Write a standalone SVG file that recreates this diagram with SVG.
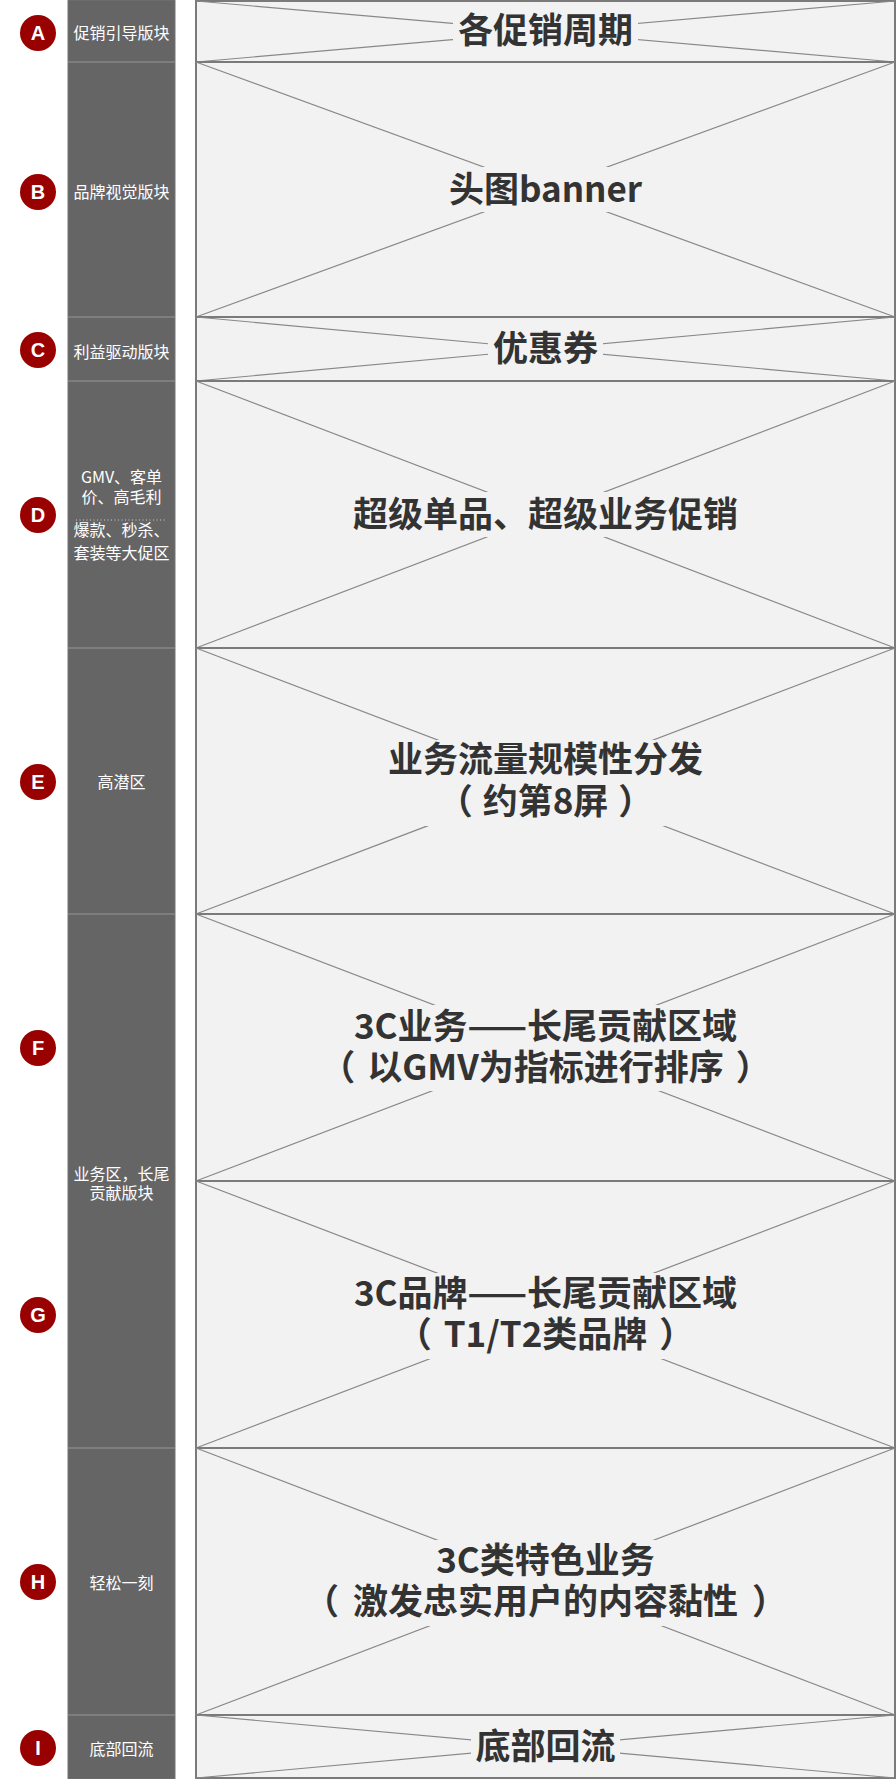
<svg xmlns="http://www.w3.org/2000/svg" width="896" height="1779" viewBox="0 0 896 1779">
<style>
.badge{fill:#990000}
.bl{fill:#fff;font-family:"Liberation Sans",Arial,sans-serif;font-weight:bold;font-size:20px;text-anchor:middle}
.col{fill:#666566;stroke:#747474;stroke-width:1}
.sep{stroke:#7e7e7e;stroke-width:2}
.lab{fill:#fff;font-family:"Noto Sans CJK SC",sans-serif;font-size:16px;text-anchor:middle}
.sec{fill:#f2f2f2;stroke:#7a7a7a;stroke-width:2}
.dg{stroke:#888;stroke-width:1.2;fill:none}
.tb{fill:#f2f2f2}
.tt{fill:#333;font-family:"Noto Sans CJK SC",sans-serif;font-weight:bold;font-size:35px;text-anchor:middle}
</style>
<rect x="0" y="0" width="896" height="1779" fill="#fff"/>
<g id="left-column">
<rect class="col" x="68" y="0" width="107" height="1779"/>
<line class="sep" x1="68" y1="62" x2="175" y2="62"/>
<line class="sep" x1="68" y1="317" x2="175" y2="317"/>
<line class="sep" x1="68" y1="381" x2="175" y2="381"/>
<line class="sep" x1="68" y1="648" x2="175" y2="648"/>
<line class="sep" x1="68" y1="914" x2="175" y2="914"/>
<line class="sep" x1="68" y1="1448" x2="175" y2="1448"/>
<line class="sep" x1="68" y1="1715" x2="175" y2="1715"/>
</g>
<g id="badge-A"><circle class="badge" cx="38" cy="33" r="18"/><text class="bl" x="38" y="40">A</text><text class="lab" x="121.5" y="39">促销引导版块</text></g>
<g id="badge-B"><circle class="badge" cx="38" cy="192" r="18"/><text class="bl" x="38" y="199">B</text><text class="lab" x="121.5" y="198">品牌视觉版块</text></g>
<g id="badge-C"><circle class="badge" cx="38" cy="350" r="18"/><text class="bl" x="38" y="357">C</text><text class="lab" x="121.5" y="358">利益驱动版块</text></g>
<g id="badge-D"><circle class="badge" cx="38" cy="515" r="18"/><text class="bl" x="38" y="522">D</text>
<text class="lab" x="121.5" y="483">GMV、客单</text>
<text class="lab" x="121.5" y="503">价、高毛利</text>
<line x1="76" y1="520" x2="167" y2="520" stroke="#cfcfcf" stroke-width="1" stroke-dasharray="1 2.5"/>
<text class="lab" x="121.5" y="536">爆款、秒杀、</text>
<text class="lab" x="121.5" y="559">套装等大促区</text></g>
<g id="badge-E"><circle class="badge" cx="38" cy="782" r="18"/><text class="bl" x="38" y="789">E</text><text class="lab" x="121.5" y="788">高潜区</text></g>
<g id="badge-F"><circle class="badge" cx="38" cy="1048" r="18"/><text class="bl" x="38" y="1055">F</text></g>
<g id="label-FG"><text class="lab" x="121.5" y="1180">业务区，长尾</text><text class="lab" x="121.5" y="1199">贡献版块</text></g>
<g id="badge-G"><circle class="badge" cx="38" cy="1315" r="18"/><text class="bl" x="38" y="1322">G</text></g>
<g id="badge-H"><circle class="badge" cx="38" cy="1582" r="18"/><text class="bl" x="38" y="1589">H</text><text class="lab" x="121.5" y="1589">轻松一刻</text></g>
<g id="badge-I"><circle class="badge" cx="38" cy="1748" r="18"/><text class="bl" x="38" y="1755">I</text><text class="lab" x="121.5" y="1755">底部回流</text></g>

<g id="sec-A"><rect class="sec" x="196" y="1" width="699" height="61"/><line class="dg" x1="196" y1="1" x2="895" y2="62"/><line class="dg" x1="196" y1="62" x2="895" y2="1"/>
<rect class="tb" x="453" y="11" width="185" height="40"/><text class="tt" x="545.5" y="43">各促销周期</text></g>
<g id="sec-B"><rect class="sec" x="196" y="62" width="699" height="255"/><line class="dg" x1="196" y1="62" x2="895" y2="317"/><line class="dg" x1="196" y1="317" x2="895" y2="62"/>
<rect class="tb" x="446" y="167" width="200" height="45"/><text class="tt" x="545.5" y="201.5">头图banner</text></g>
<g id="sec-C"><rect class="sec" x="196" y="317" width="699" height="64"/><line class="dg" x1="196" y1="317" x2="895" y2="381"/><line class="dg" x1="196" y1="381" x2="895" y2="317"/>
<rect class="tb" x="488" y="329" width="115" height="40"/><text class="tt" x="545.5" y="361">优惠券</text></g>
<g id="sec-D"><rect class="sec" x="196" y="381" width="699" height="267"/><line class="dg" x1="196" y1="381" x2="895" y2="648"/><line class="dg" x1="196" y1="648" x2="895" y2="381"/>
<rect class="tb" x="344" y="492" width="403" height="45"/><text class="tt" x="545.5" y="526.5">超级单品、超级业务促销</text></g>
<g id="sec-E"><rect class="sec" x="196" y="648" width="699" height="266"/><line class="dg" x1="196" y1="648" x2="895" y2="914"/><line class="dg" x1="196" y1="914" x2="895" y2="648"/>
<rect class="tb" x="379" y="740" width="333" height="86"/><text class="tt" x="545.5" y="772">业务流量规模性分发</text><text class="tt" x="545.5" y="814"><tspan>（</tspan><tspan dx="10">约第8屏</tspan><tspan dx="10">）</tspan></text></g>
<g id="sec-F"><rect class="sec" x="196" y="914" width="699" height="267"/><line class="dg" x1="196" y1="914" x2="895" y2="1181"/><line class="dg" x1="196" y1="1181" x2="895" y2="914"/>
<rect class="tb" x="334" y="1005" width="427" height="86"/><text class="tt" x="545.5" y="1039">3C业务——长尾贡献区域</text><text class="tt" x="545.5" y="1080"><tspan>（</tspan><tspan dx="12">以GMV为指标进行排序</tspan><tspan dx="12">）</tspan></text></g>
<g id="sec-G"><rect class="sec" x="196" y="1181" width="699" height="267"/><line class="dg" x1="196" y1="1181" x2="895" y2="1448"/><line class="dg" x1="196" y1="1448" x2="895" y2="1181"/>
<rect class="tb" x="340" y="1273" width="413" height="86"/><text class="tt" x="545.5" y="1306">3C品牌——长尾贡献区域</text><text class="tt" x="545.5" y="1347"><tspan>（</tspan><tspan dx="12">T1/T2类品牌</tspan><tspan dx="12">）</tspan></text></g>
<g id="sec-H"><rect class="sec" x="196" y="1448" width="699" height="267"/><line class="dg" x1="196" y1="1448" x2="895" y2="1715"/><line class="dg" x1="196" y1="1715" x2="895" y2="1448"/>
<rect class="tb" x="319" y="1540" width="454" height="86"/><text class="tt" x="545.5" y="1573">3C类特色业务</text><text class="tt" x="545.5" y="1614"><tspan>（</tspan><tspan dx="14">激发忠实用户的内容黏性</tspan><tspan dx="14">）</tspan></text></g>
<g id="sec-I"><rect class="sec" x="196" y="1715" width="699" height="63"/><line class="dg" x1="196" y1="1715" x2="895" y2="1778"/><line class="dg" x1="196" y1="1778" x2="895" y2="1715"/>
<rect class="tb" x="471" y="1727" width="149" height="40"/><text class="tt" x="545.5" y="1759">底部回流</text></g>
</svg>
